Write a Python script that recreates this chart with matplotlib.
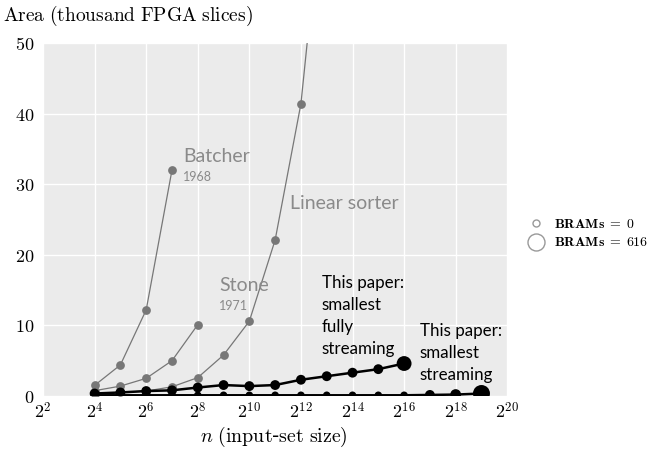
import matplotlib
matplotlib.use("Agg")
import matplotlib.pyplot as plt
from matplotlib.lines import Line2D
import numpy as np

plt.rcParams['mathtext.fontset'] = 'cm'
plt.rcParams['axes.unicode_minus'] = False

# ---- data ----
batcher_exp = [4, 5, 6, 7]
batcher_area = [1.5, 4.4, 12.2, 32.0]

stone_exp = [4, 5, 6, 7, 8]
stone_area = [0.75, 1.4, 2.5, 5.0, 10.1]

linear_exp = [4, 5, 6, 7, 8, 9, 10, 11, 12, 13]
linear_area = [0.3, 0.5, 0.7, 1.3, 2.6, 5.8, 10.6, 22.1, 41.4, 77.0]

fully_exp = [4, 5, 6, 7, 8, 9, 10, 11, 12, 13, 14, 15, 16]
fully_area = [0.35, 0.5, 0.7, 0.8, 1.2, 1.55, 1.4, 1.55, 2.3, 2.8, 3.3, 3.8, 4.6]
fully_brams = [50, 50, 50, 50, 50, 50, 50, 50, 50, 50, 50, 50, 380]

stream_exp = [4, 5, 6, 7, 8, 9, 10, 11, 12, 13, 14, 15, 16, 17, 18, 19]
stream_area = [0.1, 0.1, 0.1, 0.1, 0.1, 0.1, 0.1, 0.1, 0.1, 0.1, 0.1, 0.1, 0.1, 0.15, 0.2, 0.35]
stream_brams = [2, 2, 2, 2, 2, 2, 2, 2, 2, 2, 2, 2, 2, 50, 90, 616]

legend_brams = [0, 616]
xtick_exp = [2, 4, 6, 8, 10, 12, 14, 16, 18, 20]
yticks = [0, 10, 20, 30, 40, 50]

GRAY = '#777777'
TGRAY = '#8a8a8a'


def diam_pt(b):
    px = 7 + 10 * np.sqrt(np.asarray(b, float) / 616.0)
    return px * 0.72


fig = plt.figure(figsize=(6.52, 4.55), dpi=100)
ax = fig.add_axes([0.066, 0.1297, 0.712, 0.7758])
ax.set_facecolor('#ebebeb')
ax.set_xscale('log', base=2)
ax.set_xlim(2 ** 2, 2 ** 20)
ax.set_ylim(0, 50)
for s in ax.spines.values():
    s.set_visible(False)
ax.grid(True, color='white', linewidth=1.0)
ax.set_axisbelow(True)
ax.minorticks_off()


def xs(e):
    return [2.0 ** k for k in e]


# old sorters (gray)
for ex, ar in [(batcher_exp, batcher_area), (stone_exp, stone_area), (linear_exp, linear_area)]:
    ax.plot(xs(ex), ar, color=GRAY, linewidth=0.9, zorder=2)
    ax.plot(xs(ex), ar, 'o', color=GRAY, markersize=6.3, markeredgewidth=0, zorder=3)

# this paper (black)
ax.plot(xs(stream_exp), stream_area, color='black', linewidth=1.8, zorder=4)
ax.scatter(xs(stream_exp), stream_area, s=diam_pt(stream_brams) ** 2, color='black',
           linewidths=0, zorder=5)
ax.plot(xs(fully_exp), fully_area, color='black', linewidth=1.8, zorder=4)
ax.scatter(xs(fully_exp), fully_area, s=diam_pt(fully_brams) ** 2, color='black',
           linewidths=0, zorder=5)

ax.set_xticks([2.0 ** k for k in xtick_exp])
ax.set_xticklabels([r'$2^{%d}$' % k for k in xtick_exp], fontsize=13)
ax.set_yticks(yticks)
ax.set_yticklabels([r'$\mathrm{%d}$' % v for v in yticks], fontsize=13)
ax.tick_params(axis='both', length=0, pad=6)
ax.tick_params(axis='x', pad=4)

fig.text(0.005, 0.965, r'$\mathrm{Area\ (thousand\ FPGA\ slices)}$', fontsize=14,
         ha='left', va='center')
fig.text(0.42, 0.04, r'$n\ \mathrm{(input}$-$\mathrm{set\ size)}$', fontsize=14.3,
         ha='center', va='center')

# annotations
af = 'Lato'
ax.text(2 ** 7.42, 33.9, 'Batcher', color=TGRAY, fontsize=14, family=af, va='center')
ax.text(2 ** 7.42, 31.0, '1968', color=TGRAY, fontsize=9, family=af, va='center')
ax.text(2 ** 8.82, 15.7, 'Stone', color=TGRAY, fontsize=14, family=af, va='center')
ax.text(2 ** 8.82, 12.8, '1971', color=TGRAY, fontsize=9, family=af, va='center')
ax.text(2 ** 11.58, 27.3, 'Linear sorter', color=TGRAY, fontsize=14, family=af, va='center')
ax.text(2 ** 12.81, 17.2, 'This paper:\nsmallest\nfully\nstreaming', color='black',
        fontsize=12.2, family=af, va='top', ha='left', linespacing=1.48)
ax.text(2 ** 16.6, 10.4, 'This paper:\nsmallest\nstreaming', color='black',
        fontsize=12.2, family=af, va='top', ha='left', linespacing=1.48)

# legend
handles = [Line2D([], [], linestyle='none', marker='o', markerfacecolor='none',
                  markeredgecolor='#999999', markeredgewidth=1.0,
                  markersize=float(diam_pt(b))) for b in legend_brams]
labels = [r'$\mathbf{BRAMs}\;\mathbf{=}\;\mathbf{%d}$' % b for b in legend_brams]
fig.legend(handles, labels, loc='center left', bbox_to_anchor=(0.79, 0.488),
           frameon=False, fontsize=10, handletextpad=0.7, labelspacing=0.35,
           handlelength=1.2)

fig.savefig('out.png', dpi=100)
